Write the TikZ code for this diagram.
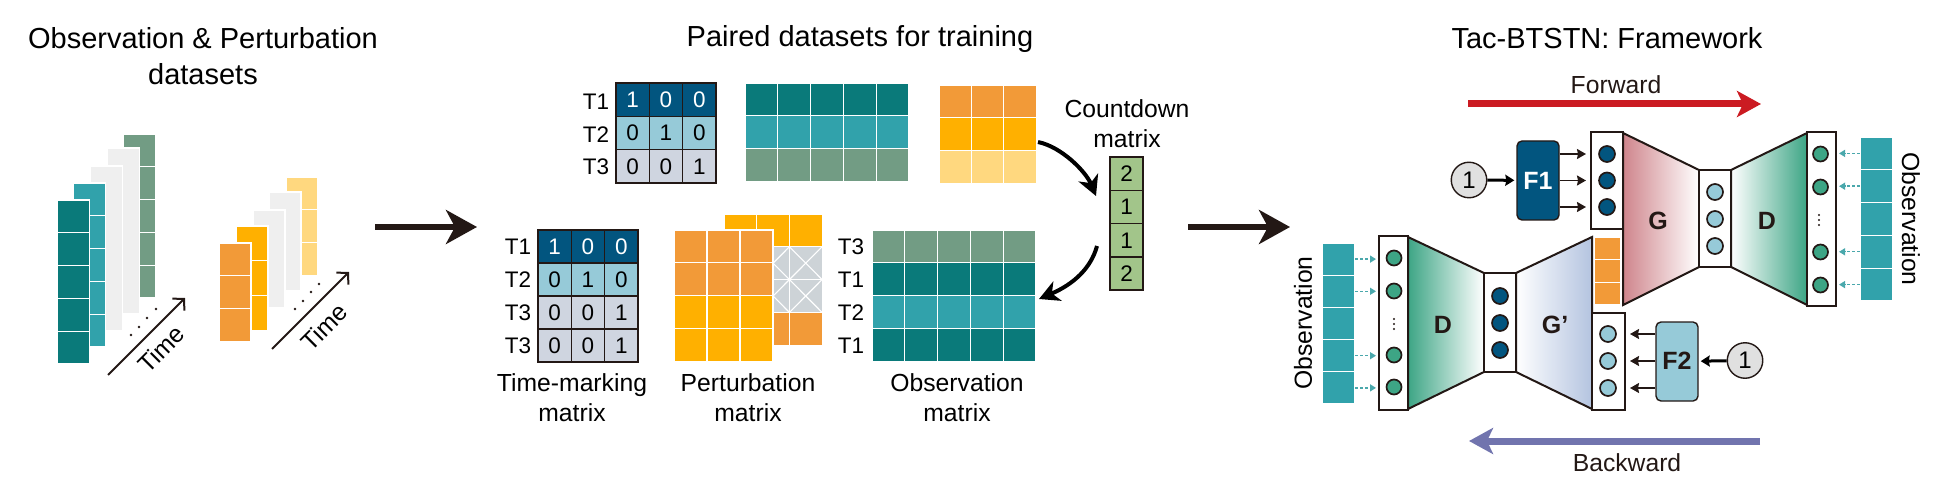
\documentclass[tikz,border=0pt]{standalone}
\usepackage{fontspec}
\setmainfont{Liberation Sans}
\usetikzlibrary{arrows.meta}

\definecolor{tealdark}{HTML}{0A7A7A}
\definecolor{tealmid}{HTML}{31A2AB}
\definecolor{sage}{HTML}{729C84}
\definecolor{pale}{HTML}{EFEFEF}
\definecolor{orangec}{HTML}{F29A38}
\definecolor{amber}{HTML}{FFB000}
\definecolor{butter}{HTML}{FFD87F}
\definecolor{navy}{HTML}{02557F}
\definecolor{skyc}{HTML}{96CAD8}
\definecolor{slatec}{HTML}{CFD5E0}
\definecolor{crossc}{HTML}{CDD3D7}
\definecolor{leaf}{HTML}{A2C58A}
\definecolor{ink}{HTML}{231815}
\definecolor{rosec}{HTML}{CF858C}
\definecolor{greenc}{HTML}{3DA585}
\definecolor{bluec}{HTML}{B4C4E0}
\definecolor{fwdred}{HTML}{CB1B22}
\definecolor{backblue}{HTML}{7174AE}
\definecolor{dotteal}{HTML}{4AA8AC}
\definecolor{knob}{HTML}{E0E0E0}

\tikzset{
  cell/.style={draw=white, line width=1.1pt},
  headfont/.style={font=\fontsize{29}{35.5}\selectfont, align=center},
  capfont/.style={font=\fontsize{24.7}{30}\selectfont, align=center},
  tagfont/.style={font=\fontsize{22.5}{26}\selectfont, inner sep=0pt},
  netfont/.style={font=\fontsize{25}{28}\selectfont\bfseries, text=ink, inner sep=0pt},
  timecell/.style={draw=ink, line width=1.6pt, minimum width=33.3pt, minimum height=#1, inner sep=0pt, font=\fontsize{22.5}{24}\selectfont},
  layerbox/.style={draw=ink, fill=white, line width=2pt, minimum width=#1, inner sep=0pt},
  neuron/.style={circle, draw=ink, fill=#1, line width=1.7pt, minimum size=16pt, inner sep=0pt},
  knobc/.style={circle, draw=ink, fill=knob, line width=1.4pt, minimum size=35.5pt, inner sep=0pt, font=\fontsize{24}{26}\selectfont},
  funcbox/.style={rectangle, rounded corners=5pt, draw=ink, fill=#1, line width=1.4pt, minimum width=42pt, minimum height=79pt, inner sep=0pt},
  trap/.style={draw=ink, line width=2pt},
  bigarrow/.style={draw=ink, line width=6pt, -{Stealth[length=31pt,width=34pt,inset=9pt]}},
  flowarrow/.style={line width=7pt, -{Stealth[length=24pt,width=26pt,inset=6pt]}},
  bendarrow/.style={draw=black, line width=4pt, -{Stealth[length=20pt,width=21pt,inset=6pt]}},
  smallarrow/.style={draw=ink, line width=1.6pt, -{Stealth[length=9pt,width=10pt,inset=1pt]}, shorten >=4pt},
  knobarrow/.style={draw=black, line width=3pt, -{Stealth[length=9pt,width=11pt,inset=1pt]}, shorten >=2pt},
  dotarrow/.style={draw=dotteal, line width=1.4pt, dash pattern=on 2.5pt off 2.5pt, -{Stealth[length=6pt,width=7pt,inset=0pt,sep=0pt]}, shorten >=2pt},
  timearrow/.style={draw=ink, line width=2pt, -{Straight Barb[length=8pt,width=17pt,line width=2pt]}},
}

% rows of plain cells: x, y, columns, cell width, cell height, one colour per row
\newcommand{\cellrows}[6]{%
  \foreach \rowcol [count=\ri from 0] in {#6}
    \foreach \ci in {1,...,#3}
      \draw[cell, fill=\rowcol] ({#1+(\ci-1)*#4},{#2+\ri*#5}) rectangle ++(#4,#5);
}
% one row of a time-marking matrix: name, left x, centre y, fill, text colour, three digits
\newcommand{\timerow}[8]{%
  \foreach \dig [count=\ci from 0] in {#6,#7,#8}
    \node[timecell=33.3pt, fill=#4, text=#5] (#1-\ci) at ({#2+16.65+33.3*\ci},#3) {\dig};
}

\begin{document}
\begin{tikzpicture}[x=1pt, y=-1pt, line cap=butt, line join=miter]

  %% ════ headings ════
  \node[headfont] (headobs) at (203,56) {Observation \& Perturbation\\datasets};
  \node[headfont] (headpair) at (860,39) {Paired datasets for training};
  \node[headfont] (headtac) at (1607,38) {Tac-BTSTN: Framework};

  %% ════ left stacks (back to front) ════
  \cellrows{123}{134}{1}{32.4}{32.8}{sage,sage,sage,sage,sage}
  \cellrows{107}{148}{1}{32.4}{166}{pale}
  \cellrows{90}{166}{1}{32.4}{165}{pale}
  \cellrows{73}{183}{1}{32.4}{32.8}{tealmid,tealmid,tealmid,tealmid,tealmid}
  \cellrows{57}{200}{1}{32.4}{32.8}{tealdark,tealdark,tealdark,tealdark,tealdark}

  \cellrows{286}{177}{1}{31.6}{32.7}{butter,butter,butter}
  \cellrows{269}{192}{1}{32}{99}{pale}
  \cellrows{253}{210}{1}{32}{98}{pale}
  \cellrows{236}{226}{1}{32}{34.7}{amber,amber,amber}
  \cellrows{219}{243}{1}{32}{32.7}{orangec,orangec,orangec}

  \foreach \dx/\dy in {131/335,139/327,147/318,156/309,295/309,303/301,311/292,319/284}
    \fill[ink] (\dx,\dy) circle (1.4);

  \coordinate (timeas) at (108,375);
  \coordinate (timeae) at (185,298);
  \coordinate (timebs) at (272,349);
  \coordinate (timebe) at (349,272);
  \draw[timearrow] (timeas) -- (timeae);
  \draw[timearrow] (timebs) -- (timebe);
  \node[capfont, rotate=45] (timea) at (161,349) {Time};
  \node[capfont, rotate=45] (timeb) at (324,327) {Time};

  \coordinate (arrowas) at (375,227);
  \coordinate (arrowae) at (477,227);
  \draw[bigarrow] (arrowas) -- (arrowae);

  %% ════ paired datasets, top row ════
  \timerow{tta}{616}{99.7}{navy}{white}{1}{0}{0}
  \timerow{ttb}{616}{133}{skyc}{black}{0}{1}{0}
  \timerow{ttc}{616}{166.3}{slatec}{black}{0}{0}{1}
  \foreach \lab/\ly [count=\li] in {T1/102,T2/134.5,T3/167}
    \node[tagfont] (ttag\li) at (596,\ly) {\lab};

  \cellrows{745}{83}{5}{32.8}{32.7}{tealdark,tealmid,sage}
  \cellrows{939}{85}{3}{32.4}{32.7}{orangec,amber,butter}

  %% ════ paired datasets, bottom row ════
  \timerow{bta}{538}{246.5}{navy}{white}{1}{0}{0}
  \timerow{btb}{538}{279.5}{skyc}{black}{0}{1}{0}
  \timerow{btc}{538}{312.5}{slatec}{black}{0}{0}{1}
  \timerow{btd}{538}{345.5}{slatec}{black}{0}{0}{1}
  \foreach \lab/\ly [count=\li] in {T1/247,T2/280,T3/313,T3/346}
    \node[tagfont] (btag\li) at (518,\ly) {\lab};

  \cellrows{724}{214}{3}{32.7}{32.8}{amber,crossc,crossc,orangec}
  \foreach \cx in {724,756.7,789.4} \foreach \cy in {246.8,279.6} {
    \draw[white, line width=1.1pt] (\cx,\cy) -- ++(32.7,32.8);
    \draw[white, line width=1.1pt] (\cx,{\cy+32.8}) -- ++(32.7,-32.8);
  }
  \cellrows{674}{230}{3}{33}{32.8}{orangec,orangec,amber,amber}

  \foreach \lab/\ly [count=\li] in {T3/247,T1/280,T2/313,T1/346}
    \node[tagfont] (otag\li) at (851,\ly) {\lab};
  \cellrows{872}{230}{5}{32.8}{32.8}{sage,tealdark,tealmid,tealdark}

  \node[capfont] (captime) at (572,398) {Time-marking\\matrix};
  \node[capfont] (capperb) at (748,398) {Perturbation\\matrix};
  \node[capfont] (capobs) at (957,398) {Observation\\matrix};
  \node[capfont] (capcount) at (1127,124) {Countdown\\matrix};

  %% ════ countdown column and its two curves ════
  \foreach \dig/\cy [count=\li] in {2/173.7,1/207,1/240.3,2/273.6}
    \node[timecell=33.3pt, fill=leaf] (count\li) at (1126.5,\cy) {\dig};

  \coordinate (perbout) at (1038,142);
  \coordinate (countin) at (1096,196);
  \coordinate (countout) at (1097,246);
  \coordinate (obsin) at (1039,299);
  \draw[bendarrow] (perbout) .. controls (1062,147) and (1086,172) .. (countin);
  \draw[bendarrow] (countout) .. controls (1091,268) and (1074,284) .. (obsin);

  \coordinate (arrowbs) at (1188,227);
  \coordinate (arrowbe) at (1290,227);
  \draw[bigarrow] (arrowbs) -- (arrowbe);

  %% ════ forward / backward bars ════
  \coordinate (fwds) at (1468,104);
  \coordinate (fwde) at (1761,104);
  \coordinate (bcks) at (1760,441);
  \coordinate (bcke) at (1469,441);
  \draw[flowarrow, draw=fwdred] (fwds) -- (fwde);
  \draw[flowarrow, draw=backblue] (bcks) -- (bcke);
  \node[capfont, text=ink] (fwdlab) at (1616,85) {Forward};
  \node[capfont, text=ink] (bcklab) at (1627,463) {Backward};

  %% ════ lower network (backward) ════
  \shadedraw[trap, left color=greenc, right color=white] (1408,237) -- (1484,273) -- (1484,372) -- (1408,409) -- cycle;
  \shadedraw[trap, left color=white, right color=bluec] (1516,273) -- (1592,237) -- (1592,409) -- (1516,372) -- cycle;
  \node[layerbox=29pt, minimum height=174pt] (layerl) at (1393.5,323) {};
  \node[layerbox=32pt, minimum height=99pt] (layerlm) at (1500,322.5) {};
  \node[layerbox=33pt, minimum height=97pt] (layerlr) at (1608.5,361.5) {};
  \foreach \ny [count=\ni] in {258,291,355,387}
    \node[neuron=greenc, minimum size=15pt] (nl\ni) at (1394,\ny) {};
  \foreach \ny in {319,324,329} \fill[ink] (1394,\ny) circle (1.2);
  \foreach \ny [count=\ni] in {296,323,350}
    \node[neuron=navy] (nm\ni) at (1500,\ny) {};
  \foreach \ny [count=\ni] in {334,361,388}
    \node[neuron=skyc] (nr\ni) at (1608,\ny) {};
  \node[netfont] (dl) at (1443,325) {D};
  \node[netfont] (gl) at (1555,325) {G’};

  \foreach \oy [count=\oi] in {259.1,291.3,323.5,355.7,387.9}
    \node[cell, fill=tealmid, minimum width=32pt, minimum height=32.2pt, inner sep=0pt] (obsl\oi) at (1338.5,\oy) {};
  \foreach \oi in {1,2,4,5}
    \draw[dotarrow] (obsl\oi.east) -- (layerl.west |- obsl\oi.east);
  \node[capfont, rotate=90] (obsllab) at (1303,323) {Observation};

  \node[funcbox=skyc] (ftwo) at (1677,361.5) {};
  \node[netfont] (ftwolab) at (1677,361) {F2};
  \foreach \ni in {1,2,3}
    \draw[smallarrow] (ftwo.west |- nr\ni) -- (layerlr.east |- nr\ni);
  \node[knobc] (onel) at (1745,360.5) {1};
  \draw[knobarrow] (onel) -- (ftwo);

  %% ════ upper network (forward) ════
  \cellrows{1594.5}{237}{1}{26}{22.6}{orangec,orangec,orangec}
  \shadedraw[trap, left color=rosec, right color=white] (1623,133) -- (1699,170) -- (1699,267) -- (1623,305) -- cycle;
  \shadedraw[trap, left color=white, right color=greenc] (1731,170) -- (1807,133) -- (1807,305) -- (1731,267) -- cycle;
  \node[layerbox=32pt, minimum height=97pt] (layerf) at (1607,180.5) {};
  \node[layerbox=32pt, minimum height=97pt] (layerm) at (1715,218.5) {};
  \node[layerbox=29pt, minimum height=174pt] (layerr) at (1821.5,219) {};
  \foreach \ny [count=\ni] in {154,180.5,207}
    \node[neuron=navy] (fa\ni) at (1607,\ny) {};
  \foreach \ny [count=\ni] in {192,219,246}
    \node[neuron=skyc] (fb\ni) at (1715,\ny) {};
  \foreach \ny [count=\ni] in {154,187,252,285}
    \node[neuron=greenc, minimum size=15pt] (fc\ni) at (1820.5,\ny) {};
  \foreach \ny in {215,220,225} \fill[ink] (1819,\ny) circle (1.2);
  \node[netfont] (gr) at (1658,221) {G};
  \node[netfont] (dr) at (1767,221) {D};

  \foreach \oy [count=\oi] in {153.4,186.2,219,251.8,284.6}
    \node[cell, fill=tealmid, minimum width=32pt, minimum height=32.8pt, inner sep=0pt] (obsr\oi) at (1876.5,\oy) {};
  \foreach \oi in {1,2,4,5}
    \draw[dotarrow] (obsr\oi.west) -- (layerr.east |- obsr\oi.west);
  \node[capfont, rotate=-90] (obsrlab) at (1911,219) {Observation};

  \node[funcbox=navy] (fone) at (1538,180.5) {};
  \node[netfont, text=white] (fonelab) at (1538,181) {F1};
  \foreach \ni in {1,2,3}
    \draw[smallarrow] (fone.east |- fa\ni) -- (layerf.west |- fa\ni);
  \node[knobc] (oner) at (1469,180) {1};
  \draw[knobarrow] (oner) -- (fone);

  % canvas fixed so the page keeps the 1953 x 494 shape
  \pgfresetboundingbox
  \path[use as bounding box] (0,0) rectangle (1953,494);
\end{tikzpicture}
\end{document}
